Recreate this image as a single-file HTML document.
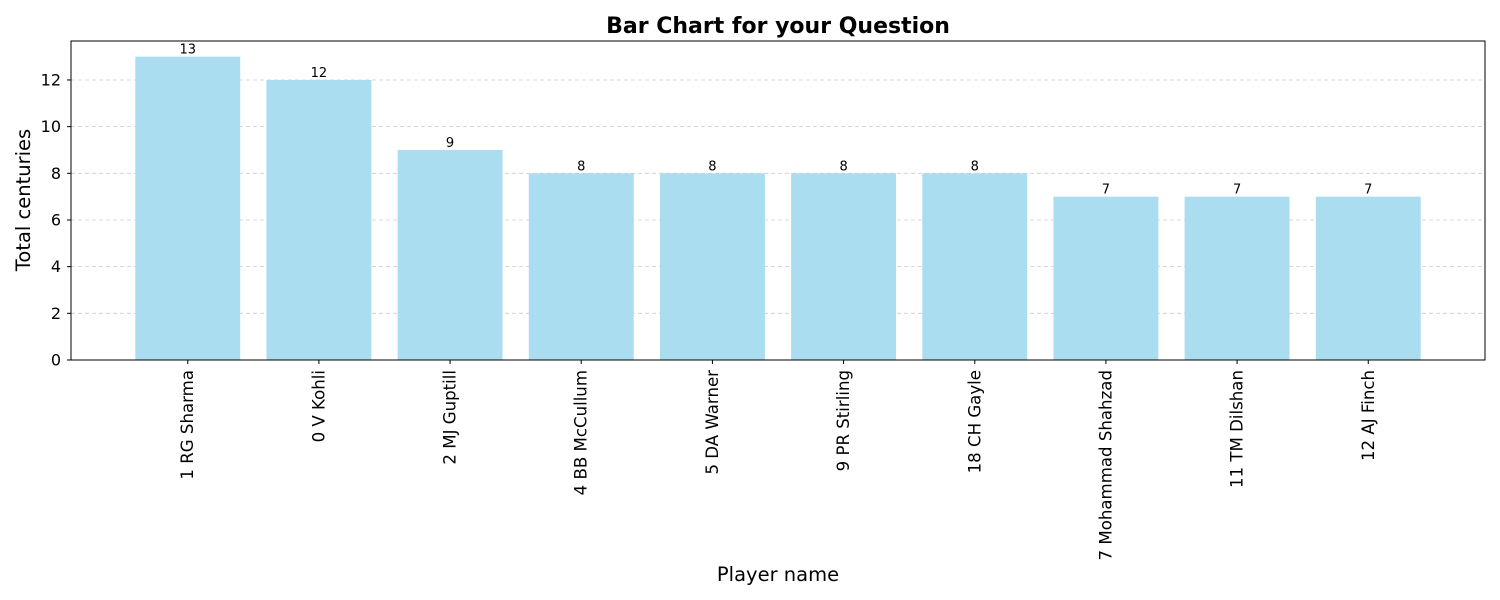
<!DOCTYPE html>
<html><head><meta charset="utf-8"><style>body{margin:0;background:#fff}svg{display:block;font-family:"DejaVu Sans","Liberation Sans",sans-serif}</style></head>
<body>
<svg id="chart" width="1500" height="600">
<text x="778" y="33" text-anchor="middle" font-size="22" font-weight="bold">Bar Chart for your Question</text>
<text x="778" y="581" text-anchor="middle" font-size="19.5">Player name</text>
<text transform="translate(30,200) rotate(-90)" text-anchor="middle" font-size="19.5">Total centuries</text>
<g id="grid"></g><g id="bars"></g><g id="labels"></g><g id="ticks"></g>
<rect x="71" y="41" width="1414" height="319" fill="none" stroke="#000" stroke-width="1"/>
</svg>
<script>
const categories=["1 RG Sharma","0 V Kohli","2 MJ Guptill","4 BB McCullum","5 DA Warner","9 PR Stirling","18 CH Gayle","7 Mohammad Shahzad","11 TM Dilshan","12 AJ Finch"];
const values=[13,12,9,8,8,8,8,7,7,7];
const yTicks=[0,2,4,6,8,10,12];
const L=71,R=1485,T=41,B=360;
const xmin=-0.89,xmax=categories.length-1+0.89;
const ymax=13.67;
const x=v=>L+(v-xmin)/(xmax-xmin)*(R-L);
const y=v=>B-v/ymax*(B-T);
const NS="http://www.w3.org/2000/svg";
function mk(tag,attrs,parent,text){const e=document.createElementNS(NS,tag);for(const k in attrs)e.setAttribute(k,attrs[k]);if(text!==undefined)e.textContent=text;document.getElementById(parent).appendChild(e);return e;}
const bw=(x(0.8)-x(0));
yTicks.forEach(t=>{
 const g=mk("line",{x1:L,x2:R,y1:y(t),y2:y(t),stroke:"#ccc","stroke-dasharray":"4,3","stroke-width":0.8},"grid");
 
 
 const tk=mk("line",{x1:L-4,x2:L,y1:y(t),y2:y(t),stroke:"#000"},"ticks");
 
 
 const tl=mk("text",{x:L-10,y:y(t)+5.5,"text-anchor":"end","font-size":16},"ticks",String(t));
 
 
});
categories.forEach((c,i)=>{
 const cx=x(i);
 const b=mk("rect",{x:cx-bw/2,y:y(values[i]),width:bw,height:B-y(values[i]),fill:"#abddf1"},"bars");
 
 
 const v=mk("text",{x:cx,y:y(values[i])-3,"text-anchor":"middle","font-size":13},"labels",String(values[i]));
 
 
 const tk=mk("line",{x1:cx,x2:cx,y1:B,y2:B+4,stroke:"#000"},"ticks");
 
 
 const tl=mk("text",{transform:`translate(${cx+5.5},370) rotate(-90)`,"text-anchor":"end","font-size":16.6},"ticks",c);
 
 
});
</script>
</body></html>
